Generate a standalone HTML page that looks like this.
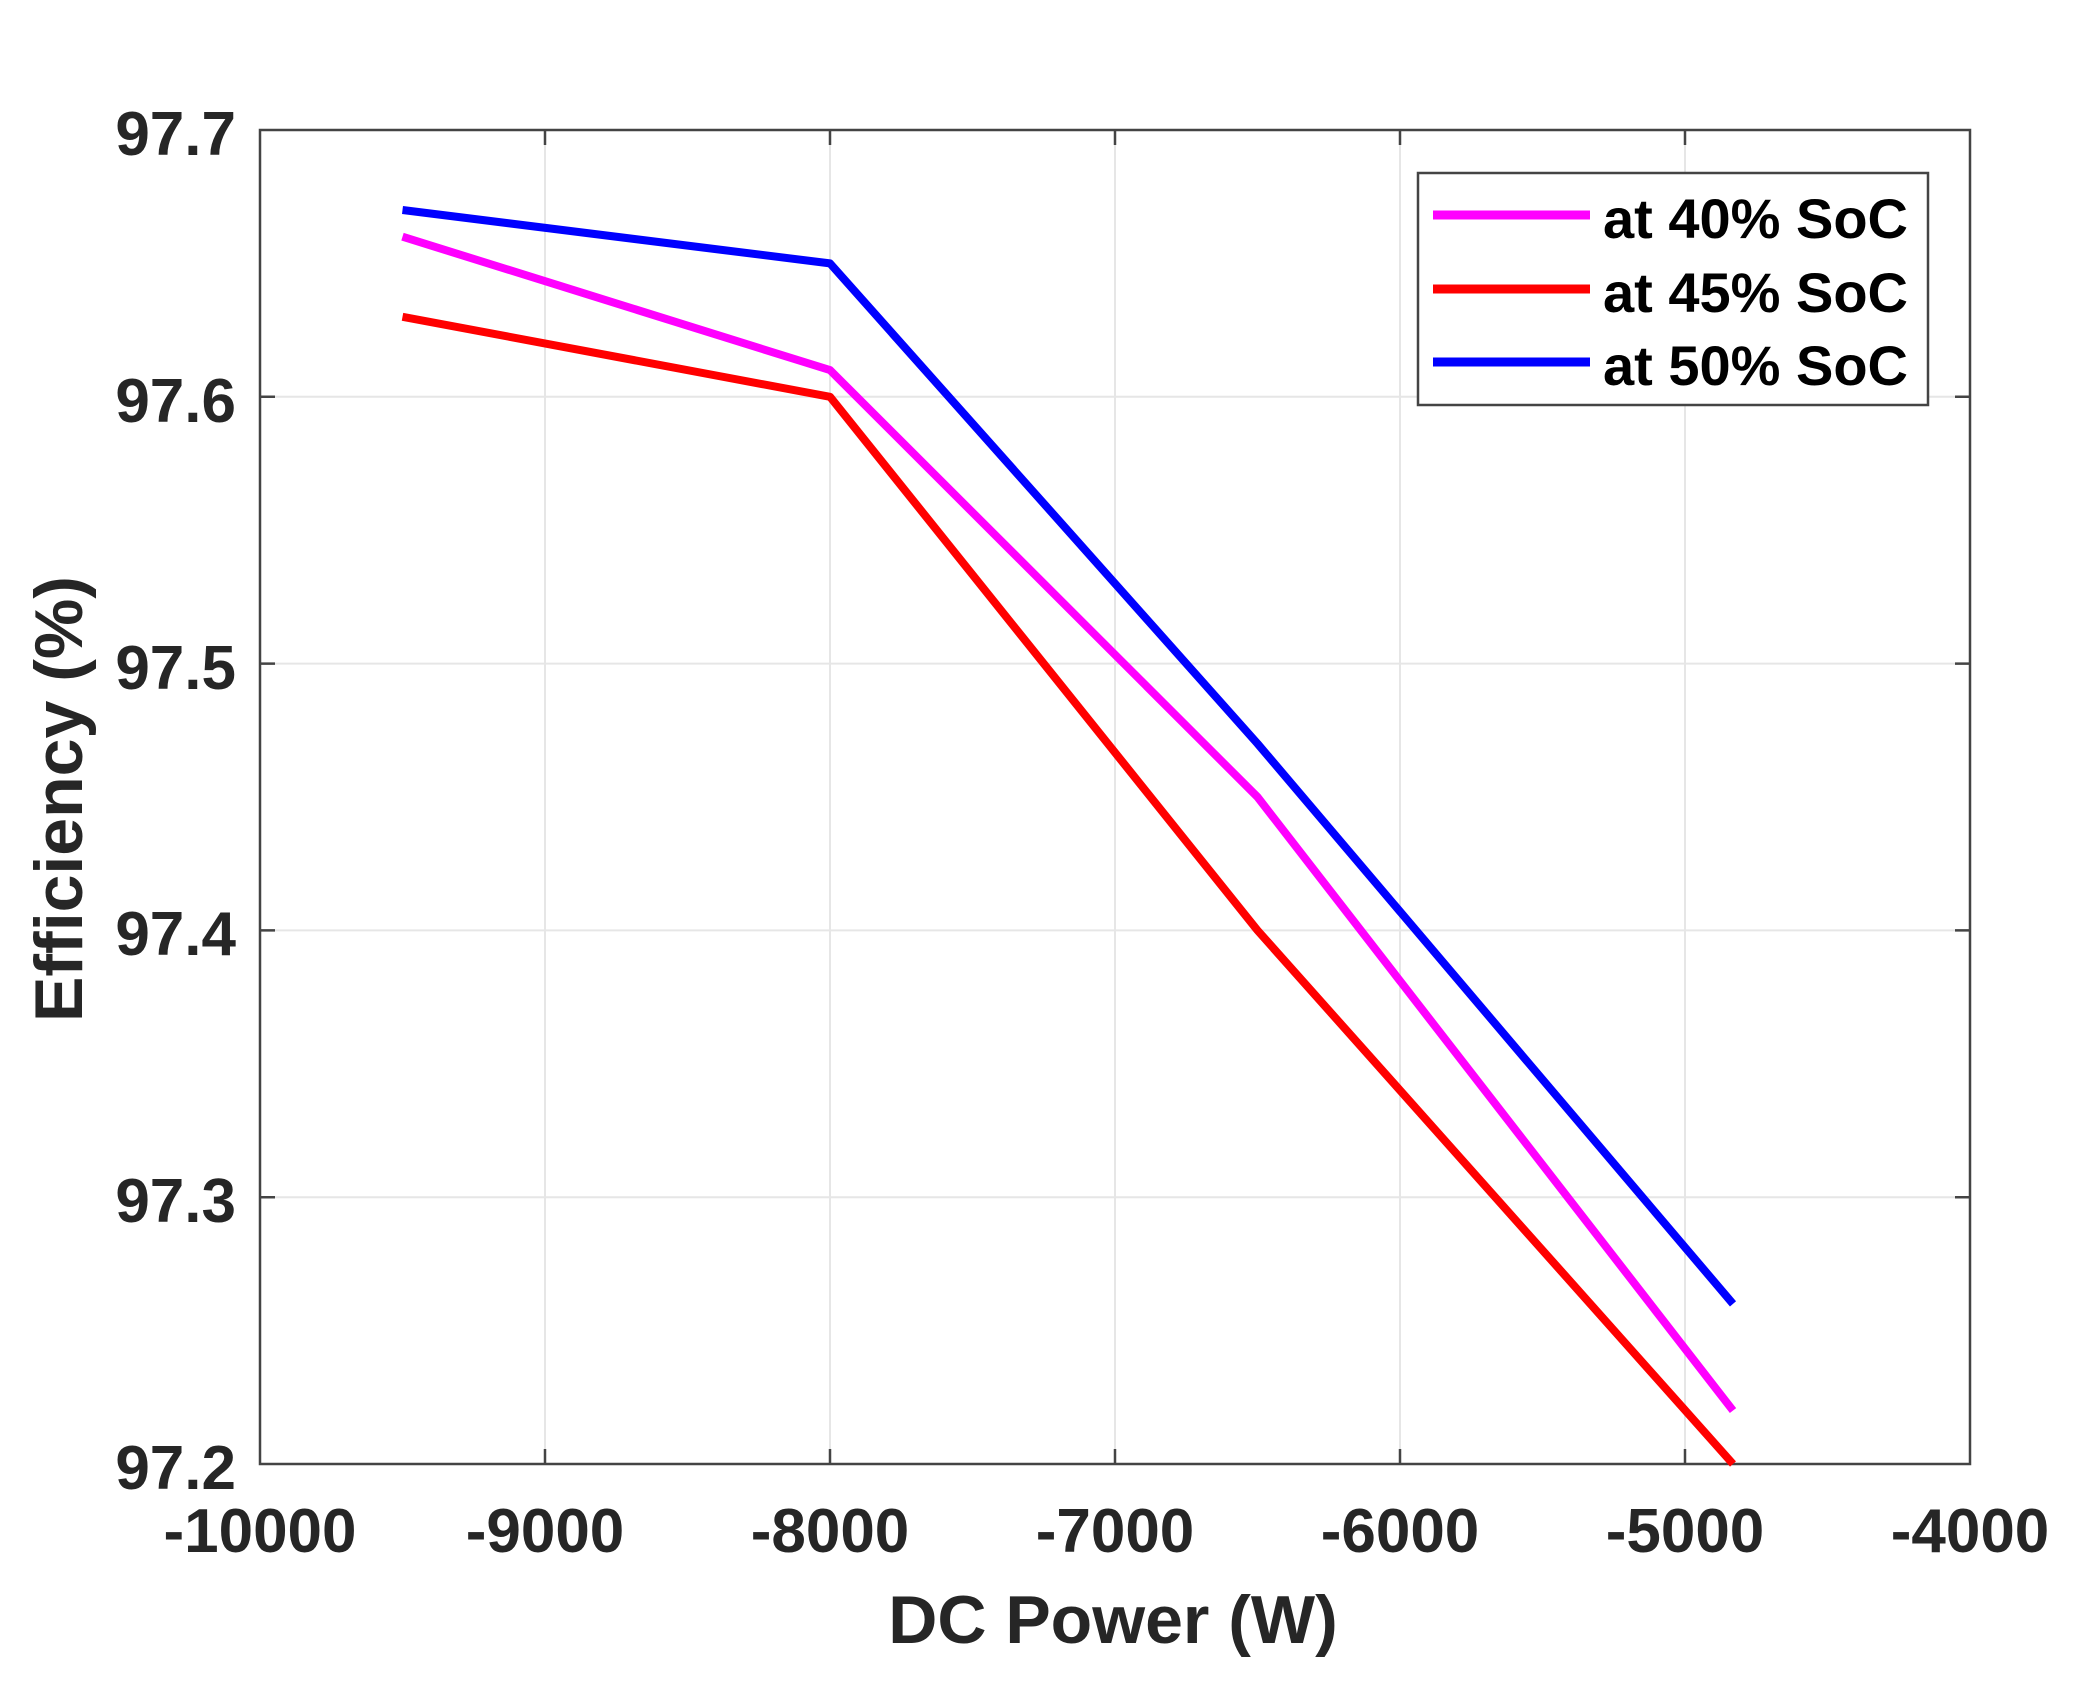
<!DOCTYPE html>
<html><head><meta charset="utf-8"><style>html,body{margin:0;padding:0;background:#fff}svg{display:block}</style></head>
<body>
<svg width="2092" height="1692" xmlns="http://www.w3.org/2000/svg" font-family="Liberation Sans, Arial, sans-serif" font-weight="bold">
<rect width="2092" height="1692" fill="#fff"/>
<g stroke="#e6e6e6" stroke-width="2">
<line x1="545" y1="130" x2="545" y2="1464"/><line x1="830" y1="130" x2="830" y2="1464"/><line x1="1115" y1="130" x2="1115" y2="1464"/><line x1="1400" y1="130" x2="1400" y2="1464"/><line x1="1685" y1="130" x2="1685" y2="1464"/>
<line x1="260" y1="396.8" x2="1970" y2="396.8"/><line x1="260" y1="663.6" x2="1970" y2="663.6"/><line x1="260" y1="930.4" x2="1970" y2="930.4"/><line x1="260" y1="1197.2" x2="1970" y2="1197.2"/>
</g>
<g stroke="#444" stroke-width="2.5">
<path d="M545 1464v-15M830 1464v-15M1115 1464v-15M1400 1464v-15M1685 1464v-15M545 130v15M830 130v15M1115 130v15M1400 130v15M1685 130v15"/>
<path d="M260 396.8h15M260 663.6h15M260 930.4h15M260 1197.2h15M1970 396.8h-15M1970 663.6h-15M1970 930.4h-15M1970 1197.2h-15"/>
<rect x="260" y="130" width="1710" height="1334" fill="none"/>
</g>
<g fill="none" stroke-width="8" stroke-linejoin="round">
<polyline stroke="#ff00ff" points="402.5,236.7 830,370.1 1257.5,797 1733,1410.6"/>
<polyline stroke="#ff0000" points="402.5,316.8 830,396.8 1257.5,930.4 1733,1464"/>
<polyline stroke="#0000ff" points="402.5,210 830,263.4 1257.5,743.6 1733,1303.9"/>
</g>
<g fill="#262626" font-size="62" text-anchor="end">
<text x="236" y="155">97.7</text><text x="236" y="422">97.6</text><text x="236" y="689">97.5</text><text x="236" y="955">97.4</text><text x="236" y="1222">97.3</text><text x="236" y="1489">97.2</text>
</g>
<g fill="#262626" font-size="62" text-anchor="middle">
<text x="260" y="1552">-10000</text><text x="545" y="1552">-9000</text><text x="830" y="1552">-8000</text><text x="1115" y="1552">-7000</text><text x="1400" y="1552">-6000</text><text x="1685" y="1552">-5000</text><text x="1970" y="1552">-4000</text>
</g>
<text x="1113" y="1643" font-size="68" text-anchor="middle" fill="#262626">DC Power (W)</text>
<text transform="translate(82,799) rotate(-90)" font-size="68" text-anchor="middle" fill="#262626">Efficiency (%)</text>
<rect x="1418" y="173" width="510" height="232" fill="#fff" stroke="#444" stroke-width="2.5"/>
<g stroke-width="9"><line x1="1433" y1="215" x2="1590" y2="215" stroke="#ff00ff"/><line x1="1433" y1="289" x2="1590" y2="289" stroke="#ff0000"/><line x1="1433" y1="362" x2="1590" y2="362" stroke="#0000ff"/></g>
<g font-size="56" fill="#000"><text x="1603" y="238">at 40% SoC</text><text x="1603" y="312">at 45% SoC</text><text x="1603" y="385">at 50% SoC</text></g>
</svg>
</body></html>
